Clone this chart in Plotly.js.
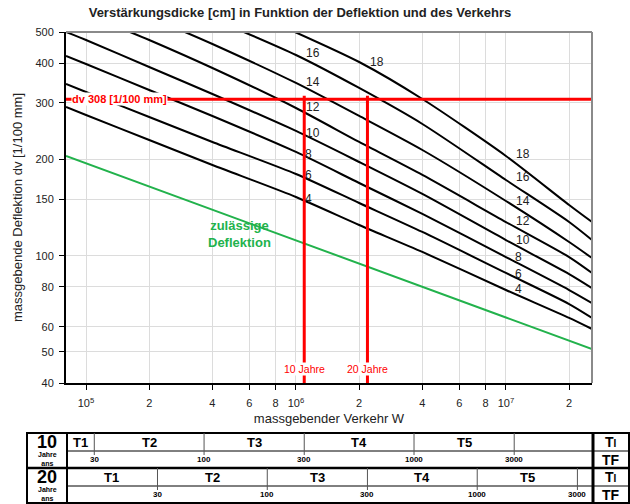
<!DOCTYPE html>
<html>
<head>
<meta charset="utf-8">
<script src="https://cdn.plot.ly/plotly-3.0.1.min.js"></script>
<style>
html,body{margin:0;padding:0;background:#fff;}
#chart{width:630px;height:504px;}
</style>
</head>
<body>
<div id="chart"></div>
<script>
// ---------------- data ----------------
const trafficW = [8.03e4, 1e5, 2e5, 4e5, 1e6, 2e6, 4e6, 1e7, 2e7, 2.57e7];
const dv4  = [291.5, 275.2, 229.9, 192.0, 152.5, 124.7, 102.7, 78.1, 63.9, 59.0];
const dv6  = [344.0, 324.7, 271.3, 226.6, 180.0, 146.1, 118.6, 88.3, 70.6, 63.9];
const dv8  = [420.7, 397.2, 329.4, 273.2, 210.9, 168.7, 135.0, 99.0, 78.1, 71.1];
const dv10 = [500, 472.1, 388.7, 320.0, 245.3, 196.2, 155.9, 111.9, 87.6, 79.2];
const w12  = [1.62e5, 2e5, 4e5, 1e6, 2e6, 4e6, 1e7, 2e7, 2.57e7];
const dv12 = [500, 472.1, 385.9, 289.4, 226.6, 178.7, 127.4, 99.0, 88.3];
const w14  = [2.96e5, 4e5, 1e6, 2e6, 4e6, 1e7, 2e7, 2.57e7];
const dv14 = [500, 458.7, 346.5, 273.2, 213.9, 148.2, 110.3, 98.3];
const w16  = [5.65e5, 1e6, 2e6, 4e6, 1e7, 2e7, 2.57e7];
const dv16 = [500, 423.7, 334.2, 257.9, 172.4, 127.4, 111.9];
const w18  = [9.89e5, 2e6, 4e6, 1e7, 2e7, 2.57e7];
const dv18 = [500, 402.9, 308.7, 204.9, 144.0, 127.4];
const wAllowed  = [8.03e4, 1e5, 1e6, 1e7, 2.57e7];
const dvAllowed = [204.9, 194.4, 111.6, 64.1, 51.1];
const thicknessLabels = ['4', '6', '8', '10', '12', '14', '16', '18'];
const dvDesign = 308;
const dvDesignLineTop = 316;
const wTenYears = 1.095e6;
const wTwentyYears = 2.19e6;
const wRange = [8.03e4, 2.57e7];
const dvRange = [40, 500];
const xTickVals = [1e5, 2e5, 4e5, 6e5, 8e5, 1e6, 2e6, 4e6, 6e6, 8e6, 1e7, 2e7];
const xTickText = ['10<sup>5</sup>', '2', '4', '6', '8', '10<sup>6</sup>', '2', '4', '6', '8', '10<sup>7</sup>', '2'];
const yTickVals = [40, 50, 60, 80, 100, 150, 200, 300, 400, 500];
const tfBounds = [30, 100, 300, 1000, 3000];
const trafficClasses = ['T1', 'T2', 'T3', 'T4', 'T5'];
const periodYears = [10, 20];
const daysPerYear = 365;

// ---------------- label positions (not data) ----------------
const leftLabelW  = [1.153e6, 1.153e6, 1.153e6, 1.205e6, 1.205e6, 1.205e6, 1.205e6, 2.431e6];
const leftLabelDv = [150.4, 178.7, 207.8, 241.7, 291.5, 349.0, 429.9, 402.9];
const rightLabelW  = [1.153e7, 1.153e7, 1.153e7, 1.205e7, 1.205e7, 1.205e7, 1.205e7, 1.205e7];
const rightLabelDv = [78.7, 87.6, 99.0, 111.9, 128.3, 148.2, 176.2, 207.8];

// ---------------- styles ----------------
const RED = '#ff0000', GREEN = '#22b24c', INK = '#222';
const FONT = 'Liberation Sans, Arial, Helvetica, sans-serif';
const W = 630, H = 504, M = {l: 66, r: 38, t: 32, b: 121};
const PW = W - M.l - M.r, PH = H - M.t - M.b;
const L = Math.log10;
const pxX = v => (v - M.l) / PW;
const pxY = v => (H - M.b - v) / PH;
const wToPaper = w => (L(w) - L(wRange[0])) / (L(wRange[1]) - L(wRange[0]));

const curveW = [trafficW, trafficW, trafficW, trafficW, w12, w14, w16, w18];
const curveDv = [dv4, dv6, dv8, dv10, dv12, dv14, dv16, dv18];

const traces = [];
traces.push({x: wAllowed, y: dvAllowed, mode: 'lines', line: {color: GREEN, width: 2}, hoverinfo: 'skip'});
curveW.forEach((w, i) => traces.push({
  x: w, y: curveDv[i], mode: 'lines', name: thicknessLabels[i] + ' cm',
  line: {color: '#000', width: 2, shape: 'spline', smoothing: 0.7}, hoverinfo: 'skip'
}));
traces.push({x: wRange, y: [dvDesign, dvDesign], mode: 'lines', line: {color: RED, width: 3}, hoverinfo: 'skip'});
traces.push({x: [wTenYears, wTenYears], y: [dvRange[0], dvDesignLineTop], mode: 'lines', line: {color: RED, width: 3}, hoverinfo: 'skip'});
traces.push({x: [wTwentyYears, wTwentyYears], y: [dvRange[0], dvDesignLineTop], mode: 'lines', line: {color: RED, width: 3}, hoverinfo: 'skip'});

const ann = [];
const A = o => Object.assign({showarrow: false, xanchor: 'center', yanchor: 'middle'}, o);
thicknessLabels.forEach((t, i) => {
  ann.push(A({xref: 'x', yref: 'y', x: L(leftLabelW[i]), y: L(leftLabelDv[i]), text: t, font: {size: 12, color: INK}}));
  ann.push(A({xref: 'x', yref: 'y', x: L(rightLabelW[i]), y: L(rightLabelDv[i]), text: t, font: {size: 12, color: INK}}));
});
ann.push(A({xref: 'paper', yref: 'y', x: pxX(71), y: L(dvDesign), xanchor: 'left', text: '<b>dv 308 [1/100 mm]</b>',
  bgcolor: '#fff', borderpad: 0, font: {size: 11, color: RED}}));
ann.push(A({xref: 'x', yref: 'paper', x: L(wTenYears), y: pxY(369), text: '10 Jahre',
  bgcolor: '#fff', borderpad: 0, font: {size: 10.5, color: RED}}));
ann.push(A({xref: 'x', yref: 'paper', x: L(wTwentyYears), y: pxY(369), text: '20 Jahre',
  bgcolor: '#fff', borderpad: 0, font: {size: 10.5, color: RED}}));
ann.push(A({xref: 'x', yref: 'y', x: L(5.41e5), y: L(116.9), text: '<b>zulässige<br>Deflektion</b>',
  font: {size: 13, color: GREEN}}));

// ---------------- table under the chart ----------------
const shapes = [];
const ln = (x0, y0, x1, y1, width, color) => ({type: 'line', xref: 'paper', yref: 'paper', x0, y0, x1, y1,
  line: {color: color || '#000', width}});
shapes.push(ln(0, 1, 1, 1, 2, '#8a8a8a'));
shapes.push(ln(1, 0, 1, 1, 2, '#8a8a8a'));

const tL = 27, tR = 629, tT = 433, tB = 503, tMid = 468, cL = 67, cR = 593;
shapes.push({type: 'rect', xref: 'paper', yref: 'paper', x0: pxX(tL), x1: pxX(tR), y0: pxY(tT), y1: pxY(tB),
  line: {color: '#000', width: 2}});
shapes.push(ln(pxX(tL), pxY(tMid), pxX(tR), pxY(tMid), 2.5));
shapes.push(ln(pxX(cL), pxY(tT), pxX(cL), pxY(tB), 2));
shapes.push(ln(pxX(cR), pxY(tT), pxX(cR), pxY(tB), 3));

periodYears.forEach((yrs, i) => {
  const top = i === 0 ? tT : tMid;
  shapes.push(ln(pxX(cL), pxY(top + 18), pxX(tR), pxY(top + 18), 1));
  const bounds = [wRange[0]].concat(tfBounds.map(tf => tf * daysPerYear * yrs));
  tfBounds.forEach(tf => {
    const xp = wToPaper(tf * daysPerYear * yrs);
    shapes.push(ln(xp, pxY(top), xp, pxY(top + 22), 1, '#555'));
    ann.push(A({xref: 'x', yref: 'paper', x: L(tf * daysPerYear * yrs), y: pxY(top + 26), text: '<b>' + tf + '</b>',
      font: {size: 8, color: '#000'}}));
  });
  trafficClasses.forEach((c, k) => {
    ann.push(A({xref: 'x', yref: 'paper', x: (L(bounds[k]) + L(bounds[k + 1])) / 2, y: pxY(top + 9),
      text: '<b>' + c + '</b>', font: {size: 13, color: '#000'}}));
  });
  ann.push(A({xref: 'paper', yref: 'paper', x: pxX(47), y: pxY(top + 9), text: '<b>' + yrs + '</b>',
    font: {size: 18, color: '#000'}}));
  ann.push(A({xref: 'paper', yref: 'paper', x: pxX(47), y: pxY(top + 26), text: '<b>Jahre<br>ans</b>',
    font: {size: 7, color: '#000'}}));
  ann.push(A({xref: 'paper', yref: 'paper', x: pxX(611), y: pxY(top + 9), text: '<b>T<span style="font-size:10px">I</span></b>',
    font: {size: 14, color: '#000'}}));
  ann.push(A({xref: 'paper', yref: 'paper', x: pxX(611), y: pxY(top + 27), text: '<b>TF</b>',
    font: {size: 14, color: '#000'}}));
});

const layout = {
  width: W, height: H, margin: M, showlegend: false,
  paper_bgcolor: '#fff', plot_bgcolor: '#fff',
  font: {family: FONT, color: INK},
  title: {text: '<b>Verstärkungsdicke [cm] in Funktion der Deflektion und des Verkehrs</b>',
    font: {size: 13, color: INK}, xref: 'container', x: 300 / W, xanchor: 'center',
    yref: 'container', y: 1 - 12 / H, yanchor: 'middle'},
  xaxis: {type: 'log', range: [L(wRange[0]), L(wRange[1])], tickvals: xTickVals, ticktext: xTickText,
    showgrid: true, gridcolor: '#dcdcdc', gridwidth: 1, zeroline: false,
    ticks: 'outside', ticklen: 5, tickcolor: '#000', tickwidth: 1,
    showline: true, linecolor: '#000', linewidth: 2,
    tickfont: {size: 11, color: INK}, ticklabelstandoff: 4,
    title: {text: 'massgebender Verkehr W', font: {size: 13, color: INK}, standoff: 6}},
  yaxis: {type: 'log', range: [L(dvRange[0]), L(dvRange[1])], tickvals: yTickVals, ticktext: yTickVals.map(String),
    showgrid: true, gridcolor: '#dcdcdc', gridwidth: 1, zeroline: false,
    ticks: 'outside', ticklen: 5, tickcolor: '#000', tickwidth: 1,
    showline: true, linecolor: '#000', linewidth: 2,
    tickfont: {size: 11, color: INK}, ticklabelstandoff: 3,
    title: {text: 'massgebende Deflektion dv [1/100 mm]', font: {size: 13, color: INK}, standoff: 10}},
  shapes: shapes,
  annotations: ann
};

Plotly.newPlot('chart', traces, layout, {displayModeBar: false, staticPlot: true});
</script>
</body>
</html>
